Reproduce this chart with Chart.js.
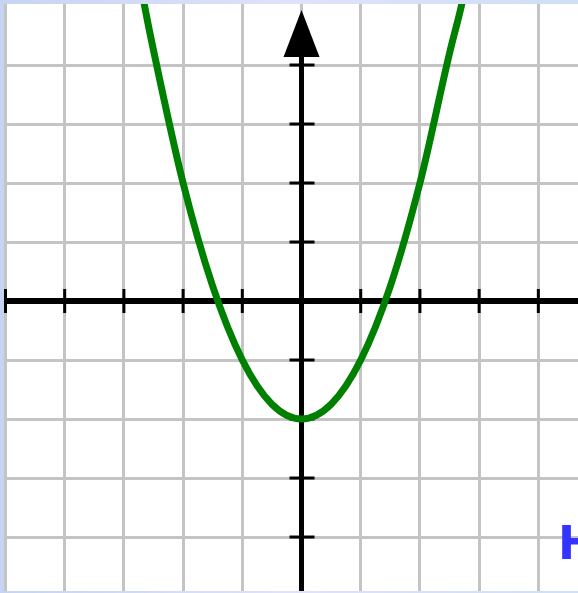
<!DOCTYPE html>
<html>
<head>
    <title>Parabola</title>
    <script src="https://cdn.jsdelivr.net/npm/chart.js"></script>
    <style>
        body {
            margin: 0;
            width: 578px;
            height: 593px;
            overflow: hidden;
            background: linear-gradient(to right, #c6d4f2, #dfe2fa 50%, #cfdff5); /* light blue frame */
            position: relative;
        }

        #graph {
            position: absolute;
            left: 4px;
            top: 4px;
            background: white;
        }

        .label {
            position: absolute;
            left: 558px;
            top: 521px;
            font-family: "DejaVu Sans", sans-serif;
            font-weight: bold;
            font-size: 46px;
            line-height: 45px;
            color: #3434ff;
        }
    </style>
</head>
<body>
    <canvas id="graph" width="574" height="587"></canvas>
    <div class="label">H</div>

    <script>
        // points
        const curveX = [-2.8, -2.65, -2.5, -2, -1.5, -1, -0.5, 0, 0.5, 1, 1.5, 2, 2.5, 2.7, 2.85];
        const curveY = [5.84, 5.0, 4.25, 2.0, 0.25, -1.0, -1.75, -2.0, -1.75, -1.0, 0.25, 2.0, 4.2, 5.0, 5.7];

        // grid / tick positions
        const xTicks = [-5, -4, -3, -2, -1, 0, 1, 2, 3, 4];
        const yTicks = [-4, -3, -2, -1, 0, 1, 2, 3, 4];

        // visible window
        const xRange = [-5.025, 4.67];
        const yRange = [-4.915, 5.034];

        // black axes with tick marks and an arrow on the y axis
        const axesPlugin = {
            id: 'axes',
            beforeDatasetsDraw(chart) {
                const ctx = chart.ctx;
                const xs = chart.scales.x, ys = chart.scales.y;
                const x0 = xs.getPixelForValue(0);
                const y0 = ys.getPixelForValue(0);
                const area = chart.chartArea;
                ctx.save();
                ctx.strokeStyle = 'black';
                ctx.fillStyle = 'black';

                // x axis
                ctx.lineWidth = 6;
                ctx.beginPath();
                ctx.moveTo(area.left, y0);
                ctx.lineTo(area.right, y0);
                ctx.stroke();

                // y axis
                ctx.lineWidth = 5;
                ctx.beginPath();
                ctx.moveTo(x0, area.top + 20);
                ctx.lineTo(x0, area.bottom);
                ctx.stroke();

                // tick marks
                ctx.lineWidth = 3;
                xTicks.forEach(v => {
                    if (v === 0) return;
                    const px = xs.getPixelForValue(v);
                    ctx.beginPath();
                    ctx.moveTo(px, y0 - 12);
                    ctx.lineTo(px, y0 + 12);
                    ctx.stroke();
                });
                yTicks.forEach(v => {
                    if (v === 0) return;
                    const py = ys.getPixelForValue(v);
                    ctx.beginPath();
                    ctx.moveTo(x0 - 12, py);
                    ctx.lineTo(x0 + 13, py);
                    ctx.stroke();
                });

                // arrow head
                ctx.beginPath();
                ctx.moveTo(x0, area.top + 6);
                ctx.lineTo(x0 - 18, area.top + 53);
                ctx.lineTo(x0 + 18, area.top + 53);
                ctx.closePath();
                ctx.fill();
                ctx.restore();
            }
        };

        new Chart(document.getElementById('graph'), {
            type: 'scatter',
            data: {
                datasets: [{
                    data: curveX.map((x, i) => ({x: x, y: curveY[i]})),
                    showLine: true,
                    borderColor: '#008000',
                    borderWidth: 7,
                    pointRadius: 0,
                    cubicInterpolationMode: 'monotone'
                }]
            },
            options: {
                responsive: false,
                animation: false,
                layout: { padding: 0 },
                plugins: {
                    legend: { display: false },
                    tooltip: { enabled: false }
                },
                scales: {
                    x: {
                        type: 'linear',
                        min: xRange[0],
                        max: xRange[1],
                        afterBuildTicks: s => { s.ticks = xTicks.map(v => ({value: v})); },
                        ticks: { display: false },
                        border: { display: false },
                        grid: { color: '#c4c4c4', lineWidth: 3, drawTicks: false }
                    },
                    y: {
                        type: 'linear',
                        min: yRange[0],
                        max: yRange[1],
                        afterBuildTicks: s => { s.ticks = yTicks.map(v => ({value: v})); },
                        ticks: { display: false },
                        border: { display: false },
                        grid: { color: '#c4c4c4', lineWidth: 3, drawTicks: false }
                    }
                }
            },
            plugins: [axesPlugin]
        });
    </script>
</body>
</html>
